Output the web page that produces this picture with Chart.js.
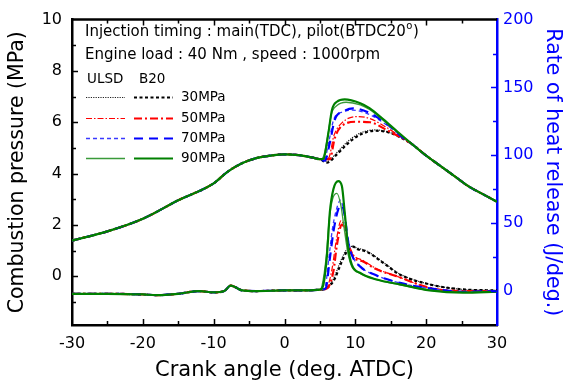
<!DOCTYPE html>
<html>
<head>
<meta charset="utf-8">
<script src="https://cdn.jsdelivr.net/npm/chart.js"></script>
<style>
  html, body { margin: 0; padding: 0; background: #fff; }
  #wrap { width: 565px; height: 383px; }
</style>
</head>
<body>
<div id="wrap"><canvas id="combChart" width="565" height="383"></canvas></div>
<script>
const FONT = "'DejaVu Sans', sans-serif";

// x axis ticks
const angleTicks = [-30, -20, -10, 0, 10, 20, 30];
const pressTicks = [0, 2, 4, 6, 8, 10];
const hrrTicks = [0, 50, 100, 150, 200];

// compression part, same for every case (deg ATDC / MPa)
const compAngle = [-30, -25, -20, -15, -10, -8, -6, -4, -2, 0, 2, 4, 5];
const compPress = [1.39, 1.75, 2.24, 2.96, 3.62, 4.08, 4.4, 4.6, 4.7, 4.75, 4.72, 4.62, 4.56];

// expansion tail, same for every case
const tailAngle = [18, 20, 22, 24, 26, 28, 30];
const tailPress = [5.15, 4.7, 4.3, 3.9, 3.5, 3.2, 2.9];

// combustion part of pressure, per case
const p30uAngle = [6.0, 7.4, 8.8, 10.7, 12.8, 14.9, 17.3];
const p30uPress = [4.48, 4.82, 5.22, 5.58, 5.7, 5.6, 5.27];
const p30bAngle = [6.0, 7.4, 8.8, 10.7, 12.8, 14.9, 17.3];
const p30bPress = [4.43, 4.75, 5.14, 5.52, 5.67, 5.59, 5.27];
const p50uAngle = [6.2, 7.0, 8.2, 10.2, 12, 14.4, 16.5];
const p50uPress = [4.6, 5.5, 6.0, 6.22, 6.15, 5.8, 5.42];
const p50bAngle = [6.4, 7.1, 8.3, 10.2, 12.1, 14.4, 16.5];
const p50bPress = [4.56, 5.39, 5.9, 6.02, 6.0, 5.7, 5.4];
const p70uAngle = [5.6, 6.3, 7.0, 8.2, 9.6, 12, 14.8, 16.5];
const p70uPress = [4.52, 5.3, 6.15, 6.4, 6.47, 6.3, 5.82, 5.45];
const p70bAngle = [5.7, 6.4, 7.1, 8.3, 9.7, 12.1, 14.9, 16.5];
const p70bPress = [4.5, 5.2, 6.1, 6.42, 6.54, 6.35, 5.84, 5.45];
const p90uAngle = [5.4, 6.1, 6.6, 7.4, 8.7, 10.7, 12, 14, 16];
const p90uPress = [4.6, 5.45, 6.3, 6.65, 6.78, 6.68, 6.5, 6.06, 5.6];
const p90bAngle = [5.5, 6.2, 6.7, 7.4, 8.5, 10.7, 12, 14, 16];
const p90bPress = [4.58, 5.59, 6.48, 6.8, 6.89, 6.74, 6.55, 6.1, 5.62];

// heat release before main injection (J/deg.)
const baseAngle = [-30, -25, -20, -18, -15, -12, -10, -8.5, -7.6, -7, -6, -4, 0, 3, 5];
const baseHrr = [-2, -2, -2.5, -3, -2, 0, -1, 0, 4, 3, 0.5, 0, 0.5, 0.5, 1];

const h30uAngle = [5.5, 6.8, 8.0, 8.7, 9.6, 10.1, 11.6, 14, 16.3, 20.5, 25.2, 30];
const h30uHrr = [1.2, 8, 23, 30, 33, 32, 29.5, 21, 12.5, 5, 1.2, 0.5];
const h30bAngle = [5.5, 6.9, 8.1, 8.8, 9.7, 10.2, 11.6, 14, 16.3, 20.5, 25.2, 30];
const h30bHrr = [1.2, 7.3, 21.8, 29, 32.7, 31, 29, 20.5, 12.1, 4.9, 1.2, 0.5];
const h50uAngle = [5.9, 6.7, 7.3, 8.0, 8.4, 9.0, 9.7, 11.1, 13, 15.8, 20.5, 25.2, 30];
const h50uHrr = [2, 16, 37, 52, 48, 36, 27, 22.5, 16.5, 11, 2.4, 0, 0];
const h50bAngle = [6.0, 6.9, 7.4, 8.1, 8.5, 9.0, 9.7, 11.1, 13, 15.8, 20.5, 25.2, 30];
const h50bHrr = [2, 14.5, 34, 49, 46, 34, 25.4, 21.8, 16, 11, 2.4, 0, 0];
const h70uAngle = [5.7, 6.3, 6.8, 7.5, 7.9, 8.4, 9.0, 9.5, 10.7, 13, 16.3, 20.5, 25.2, 30];
const h70uHrr = [2.5, 26, 47, 63, 67, 58, 38, 27, 18, 11.5, 6, 2, -0.5, 0];
const h70bAngle = [5.8, 6.4, 6.9, 7.6, 8.1, 8.5, 9.0, 9.5, 10.7, 13, 16.3, 20.5, 25.2, 30];
const h70bHrr = [2, 24, 43.5, 60.4, 63, 55.6, 36, 26.6, 18, 11.5, 6, 2, -0.5, 0];
const h90uAngle = [5.3, 5.9, 6.3, 6.8, 7.4, 8.0, 8.3, 9.0, 9.5, 10.7, 13, 16, 20.5, 25.2, 30];
const h90uHrr = [4, 26, 52, 68, 72, 62, 50.8, 26.6, 18, 13, 8.5, 5, 0.5, -1, -0.5];
const h90bAngle = [5.5, 6.0, 6.4, 6.9, 7.6, 8.1, 8.5, 9.0, 9.5, 10.7, 13, 16.3, 20.5, 25.2, 30];
const h90bHrr = [4.9, 26.6, 58, 75, 81, 77.4, 58, 31.4, 19.4, 13.3, 8.5, 4.9, 0.5, -1.2, -0.5];

const legendRows = ["30MPa", "50MPa", "70MPa", "90MPa"];

function pts(xs, ys) {
  return xs.map((x, i) => ({ x: x, y: ys[i] }));
}
function pressCurve(a, p) {
  return pts(compAngle, compPress).concat(pts(a, p), pts(tailAngle, tailPress));
}
function hrrCurve(a, h) {
  return pts(baseAngle, baseHrr).concat(pts(a, h));
}

// line styles: [ULSD, B20] per injection pressure
const styles = {
  "90MPa": [
    { color: "#3a9a3a", width: 1.3, dash: [] },
    { color: "#008000", width: 2.2, dash: [] }
  ],
  "70MPa": [
    { color: "#3a3aff", width: 1.3, dash: [4, 3] },
    { color: "#0000ff", width: 2.2, dash: [9, 6] }
  ],
  "50MPa": [
    { color: "#ff0000", width: 1.2, dash: [6, 2, 1.5, 2] },
    { color: "#ff0000", width: 2.2, dash: [8, 3, 2, 3] }
  ],
  "30MPa": [
    { color: "#222222", width: 1.2, dash: [1.2, 1.2] },
    { color: "#000000", width: 2.2, dash: [3, 2.5] }
  ]
};

function ds(data, st, axis) {
  return {
    data: data,
    yAxisID: axis,
    borderColor: st.color,
    borderWidth: st.width,
    borderDash: st.dash,
    pointRadius: 0,
    fill: false,
    cubicInterpolationMode: "monotone"
  };
}

const datasets = [
  ds(pressCurve(p90bAngle, p90bPress), styles["90MPa"][1], "y"),
  ds(pressCurve(p90uAngle, p90uPress), styles["90MPa"][0], "y"),
  ds(pressCurve(p70bAngle, p70bPress), styles["70MPa"][1], "y"),
  ds(pressCurve(p70uAngle, p70uPress), styles["70MPa"][0], "y"),
  ds(pressCurve(p50bAngle, p50bPress), styles["50MPa"][1], "y"),
  ds(pressCurve(p50uAngle, p50uPress), styles["50MPa"][0], "y"),
  ds(pressCurve(p30bAngle, p30bPress), styles["30MPa"][1], "y"),
  ds(pressCurve(p30uAngle, p30uPress), styles["30MPa"][0], "y"),
  ds(hrrCurve(h90bAngle, h90bHrr), styles["90MPa"][1], "y1"),
  ds(hrrCurve(h90uAngle, h90uHrr), styles["90MPa"][0], "y1"),
  ds(hrrCurve(h70bAngle, h70bHrr), styles["70MPa"][1], "y1"),
  ds(hrrCurve(h70uAngle, h70uHrr), styles["70MPa"][0], "y1"),
  ds(hrrCurve(h50bAngle, h50bHrr), styles["50MPa"][1], "y1"),
  ds(hrrCurve(h50uAngle, h50uHrr), styles["50MPa"][0], "y1"),
  ds(hrrCurve(h30bAngle, h30bHrr), styles["30MPa"][1], "y1"),
  ds(hrrCurve(h30uAngle, h30uHrr), styles["30MPa"][0], "y1")
];

// inward tick marks, top frame line, notes and the two-column legend
const decor = {
  id: "decor",
  afterDraw(chart) {
    const { ctx, chartArea: a, scales } = chart;
    ctx.save();
    ctx.lineCap = "butt";
    ctx.setLineDash([]);

    // top frame
    ctx.strokeStyle = "#000";
    ctx.lineWidth = 2.5;
    ctx.beginPath();
    ctx.moveTo(a.left, a.top);
    ctx.lineTo(a.right, a.top);
    ctx.stroke();

    ctx.lineWidth = 1.5;
    ctx.beginPath();
    for (let v = -25; v < 30; v += 5) {
      const px = Math.round(scales.x.getPixelForValue(v)) + 0.5;
      const len = v % 10 === 0 ? 6 : 4;
      ctx.moveTo(px, a.bottom);
      ctx.lineTo(px, a.bottom - len);
      ctx.moveTo(px, a.top);
      ctx.lineTo(px, a.top + len);
    }
    for (let v = -1; v < 10; v += 1) {
      const py = Math.round(scales.y.getPixelForValue(v)) + 0.5;
      const len = v % 2 === 0 ? 6 : 4;
      ctx.moveTo(a.left, py);
      ctx.lineTo(a.left + len, py);
    }
    ctx.stroke();

    ctx.strokeStyle = "#0000ff";
    ctx.beginPath();
    for (let v = 0; v < 200; v += 25) {
      const py = Math.round(scales.y1.getPixelForValue(v)) + 0.5;
      const len = v % 50 === 0 ? 6 : 4;
      ctx.moveTo(a.right, py);
      ctx.lineTo(a.right - len, py);
    }
    ctx.stroke();

    // notes
    ctx.fillStyle = "#000";
    ctx.textBaseline = "middle";
    ctx.textAlign = "left";
    ctx.font = "15px " + FONT;
    const line1 = "Injection timing : main(TDC), pilot(BTDC20";
    ctx.fillText(line1, 85, 32);
    let w = ctx.measureText(line1).width;
    ctx.font = "10px " + FONT;
    ctx.fillText("o", 85 + w + 0.5, 26);
    const ow = ctx.measureText("o").width;
    ctx.font = "15px " + FONT;
    ctx.fillText(")", 85 + w + ow + 1, 32);
    ctx.fillText("Engine load : 40 Nm , speed : 1000rpm", 85, 55);

    // legend
    ctx.font = "13.5px " + FONT;
    ctx.fillText("ULSD", 87, 79);
    ctx.fillText("B20", 139, 79);
    const rowY = [97, 118, 138, 158];
    legendRows.forEach((name, i) => {
      const y = rowY[i];
      styles[name].forEach((st, j) => {
        const x0 = j === 0 ? 86 : 134;
        ctx.strokeStyle = st.color;
        ctx.lineWidth = st.width;
        ctx.setLineDash(st.dash);
        ctx.beginPath();
        ctx.moveTo(x0, y + 0.5);
        ctx.lineTo(x0 + 39, y + 0.5);
        ctx.stroke();
      });
      ctx.setLineDash([]);
      ctx.font = "13.5px " + FONT;
      ctx.fillStyle = "#000";
      ctx.fillText(name, 181, y);
    });
    ctx.restore();
  }
};

const ctx = document.getElementById("combChart").getContext("2d");
const combChart = new Chart(ctx, {
  type: "line",
  data: { datasets: datasets },
  options: {
    responsive: false,
    animation: false,
    layout: { padding: { top: 15, left: 0, right: 0, bottom: 0 } },
    plugins: {
      legend: { display: false },
      tooltip: { enabled: false }
    },
    scales: {
      x: {
        type: "linear",
        min: -30,
        max: 30,
        afterBuildTicks: (s) => { s.ticks = angleTicks.map((v) => ({ value: v })); },
        afterFit: (s) => { s.height = 58; },
        grid: { display: false, drawTicks: false },
        border: { display: true, color: "#000", width: 2.5 },
        ticks: { color: "#000", font: { family: FONT, size: 16 }, padding: 9, maxRotation: 0 },
        title: {
          display: true,
          text: "Crank angle (deg. ATDC)",
          color: "#000",
          font: { family: FONT, size: 21 },
          padding: { top: 9, bottom: 0 }
        }
      },
      y: {
        type: "linear",
        position: "left",
        min: -1.9,
        max: 10,
        afterBuildTicks: (s) => { s.ticks = pressTicks.map((v) => ({ value: v })); },
        afterFit: (s) => { s.width = 72; },
        grid: { display: false, drawTicks: false },
        border: { display: true, color: "#000", width: 2.5 },
        ticks: { color: "#000", font: { family: FONT, size: 16 }, padding: 10 },
        title: {
          display: true,
          text: "Combustion pressure (MPa)",
          color: "#000",
          font: { family: FONT, size: 20.5 },
          padding: { top: 5, bottom: 0 }
        }
      },
      y1: {
        type: "linear",
        position: "right",
        min: -25,
        max: 200,
        afterBuildTicks: (s) => { s.ticks = hrrTicks.map((v) => ({ value: v })); },
        afterFit: (s) => { s.width = 68; },
        grid: { display: false, drawTicks: false },
        border: { display: true, color: "#0000ff", width: 2.5 },
        ticks: { color: "#0000ff", font: { family: FONT, size: 16 }, padding: 6 },
        title: {
          display: true,
          text: "Rate of heat release (J/deg.)",
          color: "#0000ff",
          font: { family: FONT, size: 20.5 },
          padding: { top: 0, bottom: 0 }
        }
      }
    }
  },
  plugins: [decor]
});
</script>
</body>
</html>
